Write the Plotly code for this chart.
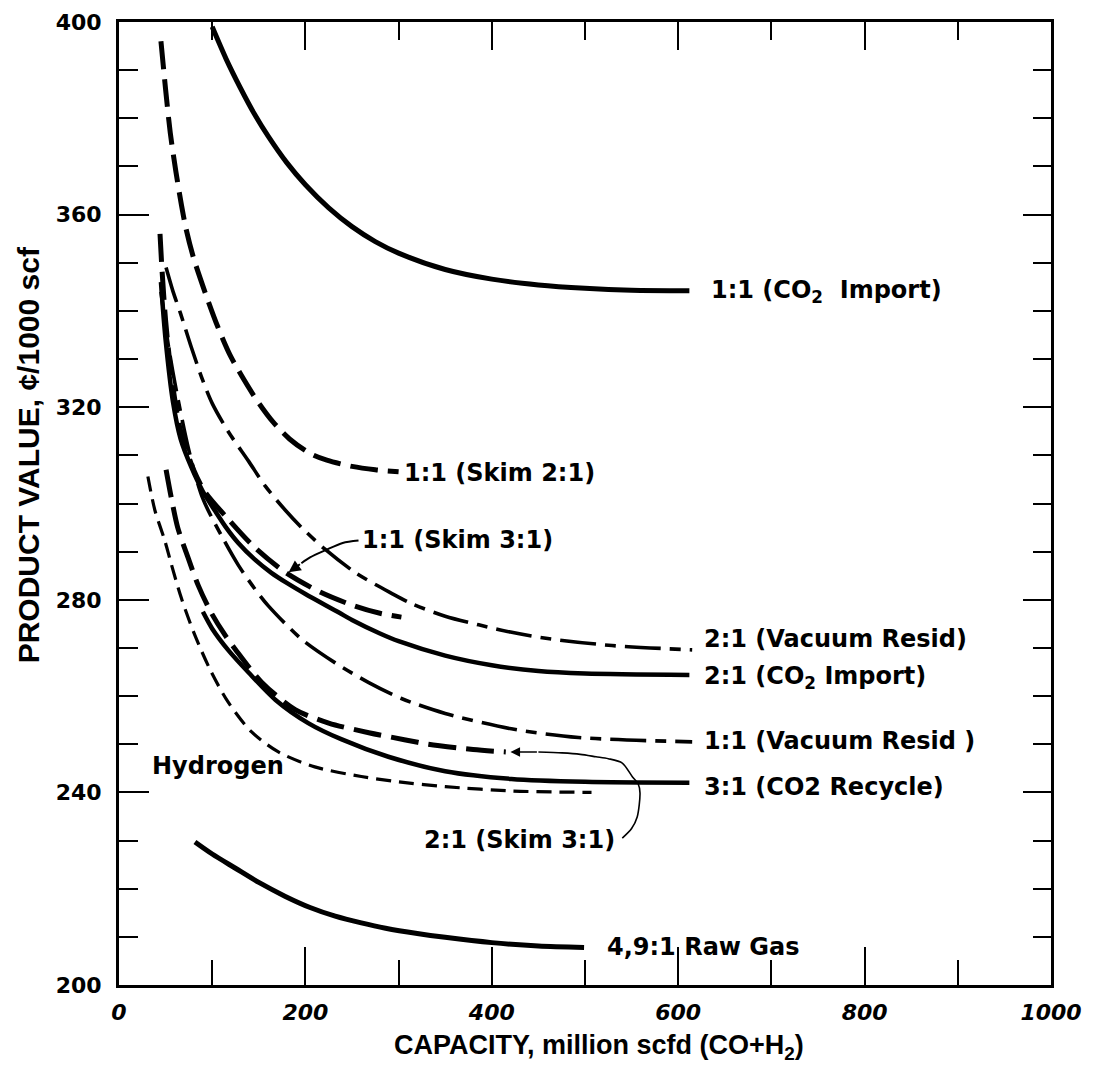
import plotly.graph_objects as go

# ---------------- data ----------------
co2imp_11_x = [100, 115, 130, 145, 160, 180, 200, 225, 250, 275, 300, 350, 400, 450, 500, 550, 612]
co2imp_11_y = [399, 392.3, 386.4, 381, 376.3, 370.8, 366.2, 361.4, 357.5, 354.4, 352, 348.6, 346.6, 345.4, 344.7, 344.3, 344.2]

skim21_11_x = [45, 50, 55, 61, 67, 72, 80, 93, 106, 120, 146, 165, 183, 205, 223, 250, 275, 300]
skim21_11_y = [396, 386, 377, 369, 362, 357, 351, 343.5, 336.7, 330.5, 322, 317, 313.4, 310.4, 309, 307.7, 307, 306.6]

skim31_11_x = [44, 46, 50, 56, 65, 80, 92, 117, 146, 178.5, 217, 253, 280, 303]
skim31_11_y = [356, 349, 338, 327, 316, 307, 302.5, 296.8, 290.8, 285.7, 281.5, 278.7, 277.2, 276.4]

vac_21_x = [50.5, 58, 66, 77.5, 90, 100, 117, 139, 157, 178.5, 196, 221, 254, 292, 314, 350, 386, 420, 458, 529, 615]
vac_21_y = [349, 344, 339.5, 332.5, 325.5, 320.8, 315, 308.8, 303.6, 298.6, 295, 290.5, 285.6, 281.4, 279.2, 276.6, 274.8, 273.3, 272, 270.5, 269.6]

co2imp_21_x = [45, 50, 58, 66, 77.5, 90, 103, 115, 128, 145, 163.5, 180, 200, 235.5, 250, 280, 300, 350, 400, 450, 500, 612]
co2imp_21_y = [346, 334, 321, 313.5, 307.6, 302.5, 298.5, 295, 291.8, 288.5, 285.6, 283.5, 281.2, 277.4, 275.8, 273, 271.4, 268.4, 266.4, 265.2, 264.7, 264.4]

vac_11_x = [45, 52, 60, 75, 90, 110, 128, 146, 160, 196, 232, 268, 303, 350, 421, 493, 615]
vac_11_y = [344, 334, 325, 311, 301, 293.3, 287.2, 282.2, 278.8, 271.8, 266.9, 262.8, 259.5, 256.4, 253.2, 251.4, 250.5]

skim31_21_x = [50.5, 56, 63, 74, 85, 99, 114, 124.5, 153, 189, 225, 268, 307.5, 332, 380, 415]
skim31_21_y = [307, 301.3, 295, 288.8, 283, 277.3, 272.6, 269.8, 262.9, 257.2, 254.4, 252.4, 250.9, 250, 248.9, 248.4]

recyc_31_x = [90, 100, 117, 139, 168, 203, 239, 289, 350, 421, 500, 612]
recyc_31_y = [277.5, 274, 269.6, 264.9, 259.2, 254.4, 251, 247.4, 244.4, 242.8, 242.2, 242]

hydrogen_x = [31, 38.5, 49, 56, 67, 81.5, 99, 117, 142, 171, 210, 260, 300, 350, 421, 507]
hydrogen_y = [305.6, 298.6, 292.4, 287.5, 280.3, 272.6, 265, 258.8, 252.6, 248.4, 245.3, 243.3, 242.2, 241.2, 240.3, 240]

rawgas_x = [81.5, 100, 124.5, 150, 178.5, 205, 232, 260, 286, 320, 350, 400, 450, 499]
rawgas_y = [229.7, 227.2, 224.3, 221.3, 218.4, 216.1, 214.3, 212.9, 211.8, 210.7, 209.9, 208.8, 208.1, 207.8]

# label texts and anchor points
label_text = ["1:1 (CO<sub>2</sub>  Import)", "1:1 (Skim 2:1)", "1:1 (Skim 3:1)", "2:1 (Vacuum Resid)",
              "2:1 (CO<sub>2</sub> Import)", "1:1 (Vacuum Resid )", "3:1 (CO2 Recycle)",
              "2:1 (Skim 3:1)", "Hydrogen", "4,9:1 Raw Gas"]
label_x = [633, 304, 259, 626, 626, 626, 626, 325, 33, 521]
label_y = [344, 306.4, 292.4, 271.8, 263.8, 250.6, 241.2, 230.2, 245.5, 207.8]

# leader for "1:1 (Skim 3:1)"
lead1_x = [257, 240, 221.5, 205, 195.7]
lead1_y = [292.3, 291.8, 290.3, 288.8, 287.6]
lead1_tip = (182, 285.7)
# leader for "2:1 (Skim 3:1)"
lead2_x = [540, 550, 556, 559, 557, 551, 540, 525, 511.8, 495, 475.3, 450]
lead2_y = [230.5, 232.5, 234.9, 239.9, 241.8, 243.2, 246.1, 247, 247.4, 247.9, 248.2, 248.4]
lead2_tip = (420, 248.4)

x_ticks = [0, 200, 400, 600, 800, 1000]
y_ticks = [200, 240, 280, 320, 360, 400]

# ---------------- figure ----------------
fig = go.Figure()

def add_line(x, y, width, dash, smooth=0.8):
    fig.add_trace(go.Scatter(x=x, y=y, mode="lines", showlegend=False, hoverinfo="skip",
                             line=dict(color="black", width=width, dash=dash, shape="spline",
                                       smoothing=smooth)))

HEAVY = "28px,10px"
DASHDOT = "36px,9px,11px,9px"
SHORT = "15px,8px"

add_line(co2imp_11_x, co2imp_11_y, 5, "solid")
add_line(skim21_11_x, skim21_11_y, 5, HEAVY)
add_line(vac_21_x, vac_21_y, 3.6, DASHDOT)
add_line(co2imp_21_x, co2imp_21_y, 4.5, "solid")
add_line(skim31_11_x, skim31_11_y, 5, HEAVY)
add_line(vac_11_x, vac_11_y, 3.6, DASHDOT)
add_line(skim31_21_x, skim31_21_y, 5, HEAVY)
add_line(recyc_31_x, recyc_31_y, 4.5, "solid")
add_line(hydrogen_x, hydrogen_y, 3.2, SHORT)
add_line(rawgas_x, rawgas_y, 5, "solid")

# leaders (thin curves)
add_line(lead1_x, lead1_y, 2, "solid")
add_line(lead2_x, lead2_y, 1.6, "solid")

# invisible trace on the top/right helper axes
fig.add_trace(go.Scatter(x=[0], y=[200], xaxis="x2", yaxis="y2", mode="markers",
                         marker=dict(opacity=0), showlegend=False, hoverinfo="skip"))

LABEL_FONT = dict(family="DejaVu Sans, sans-serif", size=24, color="black", weight="bold")

for t, x, y in zip(label_text, label_x, label_y):
    fig.add_annotation(x=x, y=y, text=t, showarrow=False, xanchor="left", yanchor="middle",
                       font=LABEL_FONT)

# arrowheads
fig.add_annotation(x=lead1_tip[0], y=lead1_tip[1], ax=lead1_x[-1], ay=lead1_y[-1],
                   axref="x", ayref="y", text="", showarrow=True, arrowhead=2,
                   arrowsize=1.2, arrowwidth=2, arrowcolor="black")
fig.add_annotation(x=lead2_tip[0], y=lead2_tip[1], ax=lead2_x[-1], ay=lead2_y[-1],
                   axref="x", ayref="y", text="", showarrow=True, arrowhead=2,
                   arrowsize=1.2, arrowwidth=1.6, arrowcolor="black")

TICK_FONT = dict(family="DejaVu Sans, sans-serif", size=22, color="black", weight="bold")

fig.update_layout(
    width=1110, height=1079,
    margin=dict(l=111, r=67, t=14, b=102, autoexpand=False),
    paper_bgcolor="white", plot_bgcolor="white",
    xaxis=dict(range=[0, 1000], tickvals=x_ticks, ticks="inside", ticklen=38, tickwidth=2,
               tickcolor="black", showgrid=False, zeroline=False, showline=True, linewidth=3,
               linecolor="black", mirror=True, ticklabelstandoff=6, automargin=False,
               tickfont=dict(TICK_FONT, style="italic"),
               minor=dict(dtick=100, tick0=0, ticks="inside", ticklen=25, tickwidth=2,
                          tickcolor="black", showgrid=False)),
    yaxis=dict(range=[200, 400], tickvals=y_ticks, ticks="inside", ticklen=30, tickwidth=2,
               tickcolor="black", showgrid=False, zeroline=False, showline=True, linewidth=3,
               linecolor="black", mirror=True, tickfont=TICK_FONT, ticklabelstandoff=10,
               automargin=False,
               minor=dict(dtick=10, tick0=200, ticks="inside", ticklen=19, tickwidth=2,
                          tickcolor="black", showgrid=False)),
    xaxis2=dict(range=[0, 1000], overlaying="x", side="top", tickvals=x_ticks, ticks="inside",
                ticklen=28, tickwidth=2, tickcolor="black", showticklabels=False,
                showgrid=False, zeroline=False, showline=False, automargin=False,
                minor=dict(dtick=100, tick0=0, ticks="inside", ticklen=18, tickwidth=2,
                           tickcolor="black", showgrid=False)),
    yaxis2=dict(range=[200, 400], overlaying="y", side="right", tickvals=y_ticks, ticks="inside",
                ticklen=28, tickwidth=2, tickcolor="black", showticklabels=False,
                showgrid=False, zeroline=False, showline=False, automargin=False,
                minor=dict(dtick=10, tick0=200, ticks="inside", ticklen=18, tickwidth=2,
                           tickcolor="black", showgrid=False)),
)

fig.add_annotation(xref="paper", yref="paper", x=0, y=0.55, xshift=-91, xanchor="center",
                   yanchor="middle", textangle=-90,
                   text="PRODUCT VALUE, ¢/1000 scf", showarrow=False,
                   font=dict(family="Liberation Sans Narrow, Liberation Sans, sans-serif",
                             size=30, color="black", weight="bold"))
fig.add_annotation(xref="paper", yref="paper", x=0.515, y=0, yshift=-62, xanchor="center",
                   yanchor="middle",
                   text="CAPACITY, million scfd (CO+H<sub>2</sub>)", showarrow=False,
                   font=dict(family="Liberation Sans Narrow, Liberation Sans, sans-serif",
                             size=27, color="black", weight="bold"))

fig.write_html("out.html")
